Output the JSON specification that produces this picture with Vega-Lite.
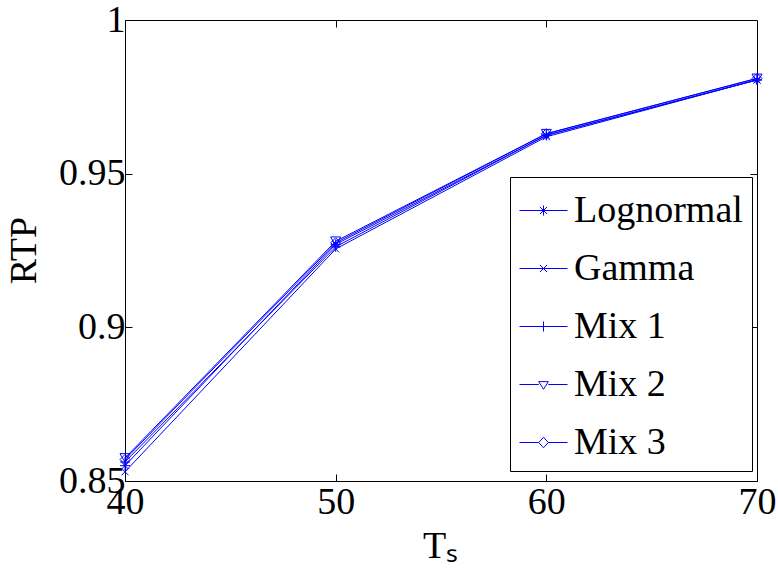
{
  "$schema": "https://vega.github.io/schema/vega-lite/v6.json",
  "autosize": "none",
  "width": 632,
  "height": 461,
  "padding": {"left": 125, "top": 20, "right": 21, "bottom": 91},
  "background": "white",
  "config": {
    "view": {"stroke": "black", "strokeWidth": 1},
    "font": "Liberation Serif",
    "axis": {
      "grid": false,
      "domain": false,
      "tickColor": "black",
      "tickSize": -7,
      "tickWidth": 1,
      "labelFont": "Liberation Serif",
      "labelFontSize": 38,
      "labelColor": "black",
      "labelFlush": false,
      "labelOverlap": false,
      "titleFont": "Liberation Serif",
      "titleFontSize": 38,
      "titleFontWeight": "normal",
      "titleColor": "black"
    }
  },
  "data": {
    "values": [
      {"Ts": 40, "series": "Lognormal", "RTP": 0.855},
      {"Ts": 50, "series": "Lognormal", "RTP": 0.927},
      {"Ts": 60, "series": "Lognormal", "RTP": 0.9625},
      {"Ts": 70, "series": "Lognormal", "RTP": 0.9805},
      {"Ts": 40, "series": "Gamma", "RTP": 0.853},
      {"Ts": 50, "series": "Gamma", "RTP": 0.9255},
      {"Ts": 60, "series": "Gamma", "RTP": 0.962},
      {"Ts": 70, "series": "Gamma", "RTP": 0.9805},
      {"Ts": 40, "series": "Mix 1", "RTP": 0.8562},
      {"Ts": 50, "series": "Mix 1", "RTP": 0.9262},
      {"Ts": 60, "series": "Mix 1", "RTP": 0.9625},
      {"Ts": 70, "series": "Mix 1", "RTP": 0.9805},
      {"Ts": 40, "series": "Mix 2", "RTP": 0.8575},
      {"Ts": 50, "series": "Mix 2", "RTP": 0.928},
      {"Ts": 60, "series": "Mix 2", "RTP": 0.963},
      {"Ts": 70, "series": "Mix 2", "RTP": 0.981},
      {"Ts": 40, "series": "Mix 3", "RTP": 0.857},
      {"Ts": 50, "series": "Mix 3", "RTP": 0.9275},
      {"Ts": 60, "series": "Mix 3", "RTP": 0.963},
      {"Ts": 70, "series": "Mix 3", "RTP": 0.981}
    ]
  },
  "layer": [
    {
      "mark": {"type": "line", "color": "#0000ff", "strokeWidth": 1},
      "encoding": {
        "x": {"field": "Ts", "type": "quantitative", "scale": {"domain": [40, 70], "nice": false, "zero": false},
          "axis": {"values": [40, 50, 60, 70], "title": "Tₛ", "labelPadding": 39, "labelBaseline": "alphabetic", "titleX": 315, "titleY": 76, "titleAlign": "center", "titleBaseline": "alphabetic"}},
        "y": {"field": "RTP", "type": "quantitative", "scale": {"domain": [0.85, 1], "nice": false, "zero": false},
          "axis": {"values": [0.85, 0.9, 0.95, 1], "format": "~g", "title": "RTP", "labelPadding": 7, "labelBaseline": "middle", "titleX": -90, "titleY": 230, "titleAngle": -90, "titleAlign": "center", "titleBaseline": "alphabetic"}},
        "detail": {"field": "series"}
      }
    },
    {
      "mark": {"type": "point", "color": "#0000ff", "filled": false, "size": 100, "strokeWidth": 1, "opacity": 1},
      "encoding": {
        "x": {"field": "Ts", "type": "quantitative", "axis": null},
        "y": {"field": "RTP", "type": "quantitative", "axis": null},
        "shape": {
          "field": "series",
          "type": "nominal",
          "scale": {
            "domain": ["Lognormal", "Gamma", "Mix 1", "Mix 2", "Mix 3"],
            "range": [
              "M-1,0H1M0,-1V1M-0.7,-0.7L0.7,0.7M-0.7,0.7L0.7,-0.7",
              "M-0.7,-0.7L0.7,0.7M-0.7,0.7L0.7,-0.7",
              "M-1,0H1M0,-1V1",
              "triangle-down",
              "diamond"
            ]
          },
          "legend": null
        }
      }
    },
    {
      "mark": {"type": "point", "color": "#0000ff", "filled": false, "size": 2304, "strokeWidth": 1, "opacity": 0},
      "encoding": {
        "x": {"field": "Ts", "type": "quantitative", "axis": {"orient": "top", "values": [50, 60], "labels": false, "title": null}},
        "y": {"field": "RTP", "type": "quantitative", "axis": {"orient": "right", "values": [0.9, 0.95], "labels": false, "title": null}},
        "shape": {
          "field": "series",
          "type": "nominal",
          "scale": {
            "domain": ["Lognormal", "Gamma", "Mix 1", "Mix 2", "Mix 3"],
            "range": [
              "M-1,0H1M0,-0.21V0.21M-0.15,-0.15L0.15,0.15M-0.15,0.15L0.15,-0.15",
              "M-1,0H1M-0.15,-0.15L0.15,0.15M-0.15,0.15L0.15,-0.15",
              "M-1,0H1M0,-0.21V0.21",
              "M-1,0H-0.2M0.2,0H1M-0.2,-0.12L0.2,-0.12L0,0.2Z",
              "M-1,0H-0.2M0.2,0H1M0,-0.22L0.2,0L0,0.22L-0.2,0Z"
            ]
          },
          "legend": {
            "title": null,
            "orient": "none",
            "legendX": 385,
            "legendY": 157,
            "strokeColor": "black",
            "fillColor": "white",
            "padding": 9,
            "labelFont": "Liberation Serif",
            "labelFontSize": 38,
            "labelColor": "black",
            "labelLimit": 0,
            "labelOffset": 6,
            "symbolSize": 2304,
            "symbolStrokeWidth": 1,
            "symbolStrokeColor": "#0000ff",
            "symbolFillColor": "transparent",
            "symbolOpacity": 1,
            "rowPadding": 14
          }
        }
      }
    }
  ],
  "resolve": {"axis": {"x": "independent", "y": "independent"}, "scale": {"shape": "independent"}}
}
